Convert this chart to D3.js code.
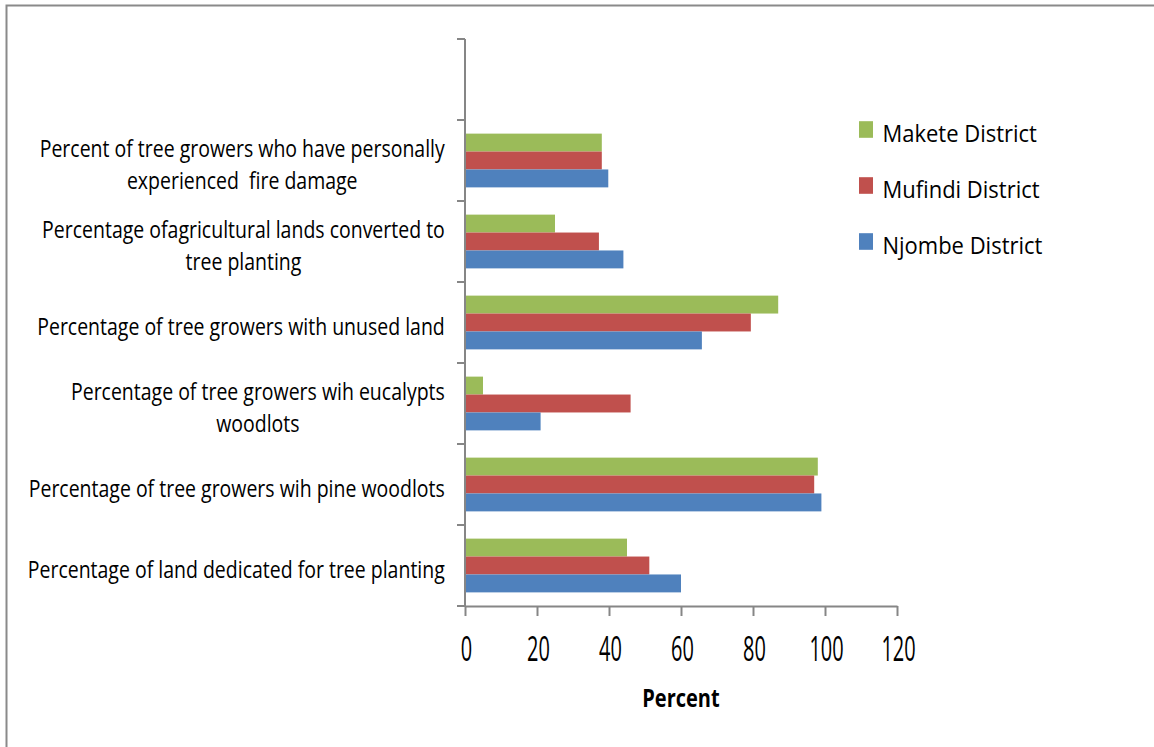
<!DOCTYPE html>
<html>
<head>
<meta charset="utf-8">
<script src="https://cdn.jsdelivr.net/npm/d3@7/dist/d3.min.js"></script>
<style>
  html, body { margin: 0; padding: 0; background: #fff; }
  svg { display: block; }
  text { fill: #000; }
</style>
</head>
<body>
<svg id="chart" width="1154" height="747"></svg>
<script>
// Category labels, listed top to bottom (each entry is the wrapped lines)
const categories = [
  ["Percent of tree growers who have personally", "experienced  fire damage"],
  ["Percentage ofagricultural lands converted to", "tree planting"],
  ["Percentage of tree growers with unused land"],
  ["Percentage of tree growers wih eucalypts", "woodlots"],
  ["Percentage of tree growers wih pine woodlots"],
  ["Percentage of land dedicated for tree planting"]
];

// Series names (top to bottom inside each group) and legend order
const seriesNames = ["Makete District", "Mufindi District", "Njombe District"];
const seriesColors = ["#9BBB59", "#C0504D", "#4F81BD"];

// Percent values per series, aligned with categories
const maketeValues  = [38, 25, 87, 5, 98, 45];
const mufindiValues = [38, 37.2, 79.4, 46, 97, 51.2];
const njombeValues  = [39.8, 44, 65.8, 21, 99, 60];

const xTicks = [0, 20, 40, 60, 80, 100, 120];
const xTitle = "Percent";

const seriesValues = [maketeValues, mufindiValues, njombeValues];

const svg = d3.select("#chart");

// Outer frame
svg.append("path")
  .attr("d", "M6.5,747 L6.5,5.5 L1154,5.5")
  .attr("fill", "none")
  .attr("stroke", "#8a8a8a")
  .attr("stroke-width", 2);

const plot = { left: 465, right: 897, top: 39, bottom: 606 };

const x = d3.scaleLinear().domain([0, 120]).range([plot.left, plot.right]);

// One empty slot above the first category
const slotKeys = ["__blank__"].concat(categories.map((c, i) => "c" + i));
const y = d3.scaleBand().domain(slotKeys).range([plot.top, plot.bottom]).paddingInner(0).paddingOuter(0);
const ySub = d3.scaleBand().domain(seriesNames).range([0, y.bandwidth()]).paddingInner(0).paddingOuter(0.76);

const axisColor = "#868686";

// Bars
const groups = svg.append("g").selectAll("g")
  .data(categories.map((c, i) => ({ key: "c" + i, i })))
  .join("g")
  .attr("transform", d => `translate(0,${y(d.key)})`);

groups.selectAll("rect")
  .data(d => seriesNames.map((s, si) => ({ s, si, v: seriesValues[si][d.i] })))
  .join("rect")
  .attr("x", x(0))
  .attr("y", d => ySub(d.s))
  .attr("width", d => x(d.v) - x(0))
  .attr("height", ySub.bandwidth())
  .attr("fill", d => seriesColors[d.si]);

// Y axis: vertical line with ticks at band boundaries
const yAxisG = svg.append("g");
yAxisG.append("line")
  .attr("x1", plot.left).attr("x2", plot.left)
  .attr("y1", plot.top).attr("y2", plot.bottom)
  .attr("stroke", axisColor).attr("stroke-width", 2);
const boundaries = slotKeys.map(k => y(k)).concat([plot.bottom]);
yAxisG.selectAll("line.tick")
  .data(boundaries)
  .join("line")
  .attr("class", "tick")
  .attr("x1", plot.left - 8).attr("x2", plot.left)
  .attr("y1", d => d).attr("y2", d => d)
  .attr("stroke", axisColor).attr("stroke-width", 2);

// Category labels: block right aligned at the axis, wrapped lines centred in the block
const labelRight = 445;
const labelG = svg.append("g")
  .style("font-family", "'Open Sans', sans-serif")
  .style("font-size", "19.5px");
categories.forEach((lines, i) => {
  const cy = y("c" + i) + y.bandwidth() / 2 + 4;
  const n = lines.length;
  const texts = lines.map((line, li) => {
    const base = cy + 8.3 + (li - (n - 1) / 2) * 32;
    return labelG.append("text")
      .attr("text-anchor", "middle")
      .attr("data-base", base)
      .style("white-space", "pre")
      .text(line);
  });
  const widest = d3.max(texts, t => t.node().getComputedTextLength());
  const cx = labelRight - widest / 2;
  texts.forEach(t => t.attr("transform", `translate(${cx},${t.attr("data-base")}) scale(1,1.2)`));
});

// X axis
const xAxis = d3.axisBottom(x).tickValues(xTicks).tickSize(10).tickSizeOuter(0).tickFormat(d3.format("d"));
const xAxisG = svg.append("g")
  .attr("transform", `translate(0,${plot.bottom})`)
  .call(xAxis);
xAxisG.select(".domain").attr("stroke", axisColor).attr("stroke-width", 2);
xAxisG.selectAll(".tick line").attr("stroke", axisColor).attr("stroke-width", 2);
xAxisG.selectAll(".tick text")
  .attr("y", 0).attr("dy", 0)
  .attr("transform", "translate(1,55) scale(0.95,1.65)")
  .style("font-family", "'Open Sans', sans-serif")
  .style("font-size", "21px")
  .attr("fill", "#000");

// X axis title
svg.append("text")
  .attr("text-anchor", "middle")
  .attr("transform", `translate(${(plot.left + plot.right) / 2},706.5) scale(1,1.28)`)
  .style("font-family", "'Open Sans', sans-serif")
  .style("font-size", "20px")
  .style("font-weight", "bold")
  .text(xTitle);

// Legend
const legend = svg.append("g");
const legendItems = legend.selectAll("g")
  .data(seriesNames)
  .join("g")
  .attr("transform", (d, i) => `translate(859,${129.5 + i * 56})`);
legendItems.append("rect")
  .attr("x", 0).attr("y", -8.3)
  .attr("width", 14).attr("height", 16.6)
  .attr("fill", (d, i) => seriesColors[i]);
legendItems.append("text")
  .attr("transform", "translate(23.5,12) scale(1,1.08)")
  .style("font-family", "'Open Sans', sans-serif")
  .style("font-size", "22px")
  .text(d => d);
</script>
</body>
</html>
